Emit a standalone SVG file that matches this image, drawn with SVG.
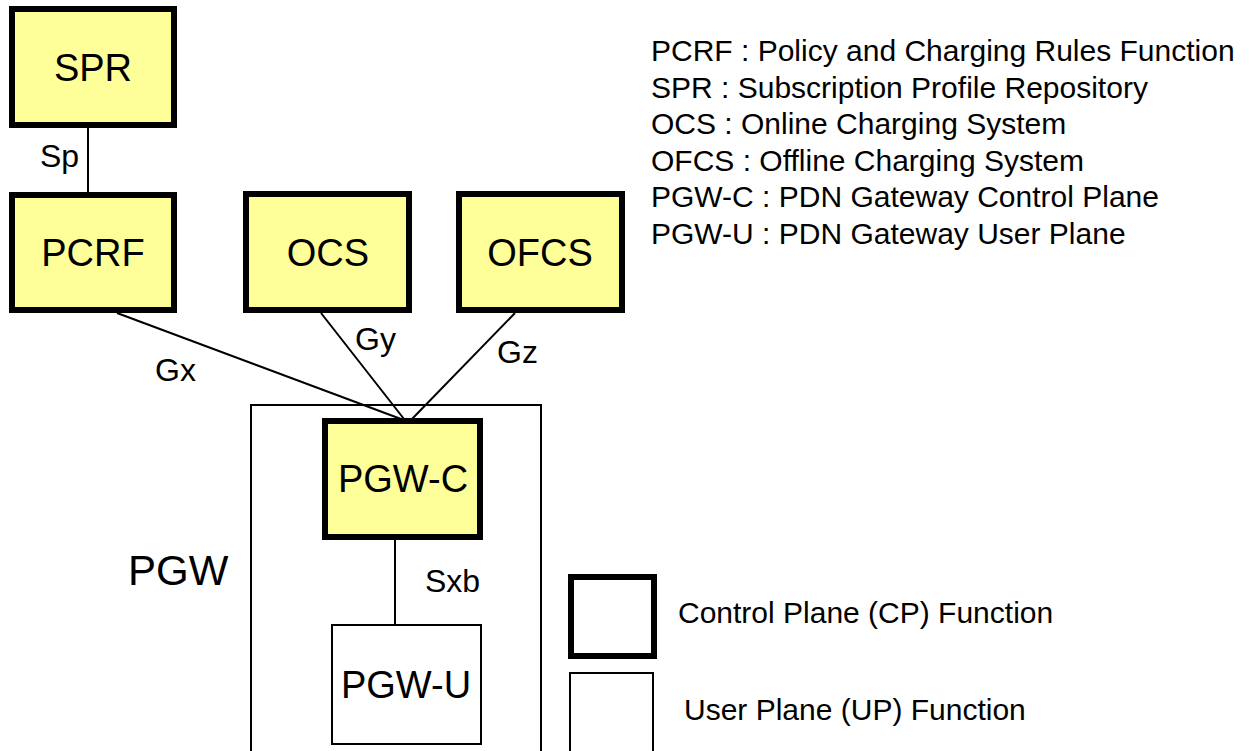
<svg xmlns="http://www.w3.org/2000/svg" width="1252" height="751" viewBox="0 0 1252 751">
<style>
text{font-family:"Liberation Sans",Arial,sans-serif;fill:#000}
.cp{fill:#FFFF99;stroke:#000;stroke-width:6}
.up{fill:#fff;stroke:#000;stroke-width:2}
.nt{font-size:38px;text-anchor:middle}
.el{font-size:32px}
.lg{font-size:30px}
.cn{stroke:#000;stroke-width:2;fill:none}
</style>
<rect width="1252" height="751" fill="#fff"/>
<g id="pgw">
<rect x="251" y="405" width="290" height="360" class="up"/>
<text x="128" y="585" font-size="42">PGW</text>
</g>
<g id="connectors">
<line x1="88" y1="128" x2="88" y2="192" class="cn"/>
<line x1="117" y1="313" x2="401" y2="419" class="cn"/>
<line x1="321" y1="313" x2="404" y2="419" class="cn"/>
<line x1="515" y1="313" x2="412" y2="419" class="cn"/>
<line x1="395" y1="540" x2="395" y2="624" class="cn"/>
<text class="el" x="40" y="167">Sp</text>
<text class="el" x="155" y="381">Gx</text>
<text class="el" x="355" y="350">Gy</text>
<text class="el" x="497" y="363">Gz</text>
<text class="el" x="425" y="592">Sxb</text>
</g>
<g id="spr">
<rect x="12" y="9" width="162" height="116" class="cp"/>
<text class="nt" x="93" y="81">SPR</text>
</g>
<g id="pcrf">
<rect x="12" y="195" width="162" height="115" class="cp"/>
<text class="nt" x="93" y="266">PCRF</text>
</g>
<g id="ocs">
<rect x="246" y="194" width="163" height="116" class="cp"/>
<text class="nt" x="328" y="266">OCS</text>
</g>
<g id="ofcs">
<rect x="459" y="194" width="163" height="116" class="cp"/>
<text class="nt" x="540" y="266">OFCS</text>
</g>
<g id="pgw-c">
<rect x="325" y="421" width="155" height="116" class="cp"/>
<text class="nt" x="403" y="492">PGW-C</text>
</g>
<g id="pgw-u">
<rect x="332" y="625" width="149" height="119" class="up"/>
<text class="nt" x="406" y="698">PGW-U</text>
</g>
<g id="legend">
<text class="lg" x="651" y="61">PCRF : Policy and Charging Rules Function</text>
<text class="lg" x="651" y="98">SPR : Subscription Profile Repository</text>
<text class="lg" x="651" y="134">OCS : Online Charging System</text>
<text class="lg" x="651" y="171">OFCS : Offline Charging System</text>
<text class="lg" x="651" y="207">PGW-C : PDN Gateway Control Plane</text>
<text class="lg" x="651" y="244">PGW-U : PDN Gateway User Plane</text>
<rect x="571" y="577" width="83" height="79" fill="#fff" stroke="#000" stroke-width="6"/>
<text class="lg" x="678" y="623">Control Plane (CP) Function</text>
<rect x="570" y="673" width="83" height="90" class="up"/>
<text class="lg" x="684" y="720">User Plane (UP) Function</text>
</g>
</svg>
